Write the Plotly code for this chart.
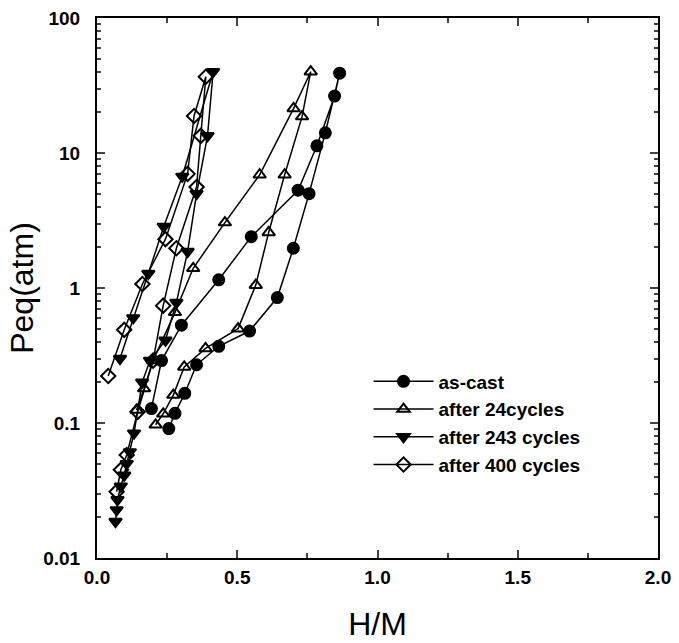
import plotly.graph_objects as go

# ---- data (H/M, Peq in atm) ----
ascast_x = [0.194, 0.230, 0.301, 0.434, 0.550, 0.717, 0.784, 0.847, 0.865,
            0.814, 0.756, 0.700, 0.643, 0.544, 0.434, 0.355, 0.313, 0.278, 0.256]
ascast_y = [0.128, 0.29, 0.53, 1.15, 2.4, 5.3, 11.3, 26.4, 39.0,
            14.1, 5.0, 1.97, 0.85, 0.48, 0.37, 0.27, 0.166, 0.118, 0.091]

c24_x = [0.141, 0.168, 0.200, 0.278, 0.343, 0.456, 0.580, 0.701, 0.762,
         0.731, 0.669, 0.612, 0.566, 0.503, 0.387, 0.311, 0.272, 0.236, 0.209]
c24_y = [0.125, 0.18, 0.29, 0.66, 1.40, 3.05, 6.9, 21.4, 40.0,
         18.6, 6.9, 2.58, 1.05, 0.50, 0.357, 0.26, 0.161, 0.117, 0.097]

c243_x = [0.066, 0.070, 0.073, 0.085, 0.097, 0.106, 0.117, 0.132, 0.161, 0.189,
          0.244, 0.283, 0.323, 0.355, 0.394, 0.414,
          0.304, 0.238, 0.183, 0.129, 0.082]
c243_y = [0.0186, 0.0227, 0.027, 0.034, 0.041, 0.050, 0.061, 0.084, 0.20, 0.29,
          0.41, 0.78, 1.86, 5.0, 13.4, 40.0,
          6.7, 2.85, 1.28, 0.60, 0.30]

c400_x = [0.070, 0.085, 0.106, 0.145, 0.200, 0.236, 0.283, 0.355, 0.370, 0.388,
          0.346, 0.323, 0.244, 0.162, 0.097, 0.040]
c400_y = [0.031, 0.045, 0.058, 0.121, 0.29, 0.74, 1.97, 5.6, 13.4, 36.7,
          18.8, 7.0, 2.3, 1.07, 0.49, 0.223]

names = ["as-cast", "after 24cycles", "after 243 cycles", "after 400 cycles"]
x_ticks = [0.0, 0.5, 1.0, 1.5, 2.0]
x_ticktext = ["0.0", "0.5", "1.0", "1.5", "2.0"]
y_ticks = [0.01, 0.1, 1, 10, 100]
y_ticktext = ["0.01", "0.1", "1", "10", "100"]

FONT = "Liberation Sans, Arial, sans-serif"

series = [
    (ascast_x, ascast_y, names[0], "circle"),
    (c24_x, c24_y, names[1], "triangle-up-open"),
    (c243_x, c243_y, names[2], "triangle-down"),
    (c400_x, c400_y, names[3], "diamond-open"),
]

fig = go.Figure()
for i, (xs, ys, nm, sym) in enumerate(series):
    fig.add_trace(go.Scatter(
        x=xs, y=ys, name=nm, mode="lines+markers",
        line=dict(color="black", width=1.5),
        marker=dict(symbol=sym, size=11, color="black",
                    line=dict(color="black", width=2)),
    ))

minor_y = [m * 10 ** e for e in range(-2, 2) for m in range(2, 10)]

fig.update_layout(
    width=679, height=643,
    margin=dict(l=97, r=21, t=18, b=85),
    paper_bgcolor="white", plot_bgcolor="white",
    font=dict(family=FONT, color="black"),
    showlegend=True,
    legend=dict(x=0.484, y=0.362, xanchor="left", yanchor="top",
                bgcolor="rgba(0,0,0,0)", itemwidth=60,
                font=dict(family=FONT, size=19, weight="bold")),
    xaxis=dict(range=[0, 2], tickvals=x_ticks, ticktext=x_ticktext,
               ticks="inside", ticklen=8, tickwidth=1.5, automargin=False,
               minor=dict(ticks="inside", ticklen=5, dtick=0.25, tick0=0),
               showline=True, linewidth=2, linecolor="black", mirror="ticks",
               showgrid=False, zeroline=False, ticklabelstandoff=1,
               tickfont=dict(size=19, weight="bold"),
               title=dict(text="H/M", font=dict(size=32), standoff=26)),
    yaxis=dict(type="log", range=[-2, 2], tickvals=y_ticks, ticktext=y_ticktext,
               ticks="inside", ticklen=8, tickwidth=1.5, automargin=False,
               minor=dict(ticks="inside", ticklen=4, tickvals=minor_y),
               showline=True, linewidth=2, linecolor="black", mirror="ticks",
               showgrid=False, zeroline=False, ticklabelstandoff=11,
               tickfont=dict(size=19, weight="bold"),
               title=dict(text="Peq(atm)", font=dict(size=32), standoff=0)),
)

fig.write_html("out.html", config={"displayModeBar": False},
               post_script="document.body.style.margin='0';document.body.style.padding='0';")
